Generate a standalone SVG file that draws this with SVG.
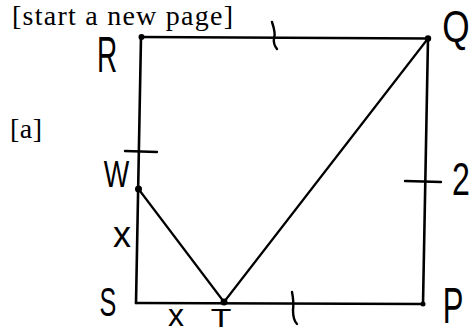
<svg xmlns="http://www.w3.org/2000/svg" width="470" height="334" viewBox="0 0 470 334">
<style>
.hdr{font-family:"Liberation Serif","Times New Roman",serif;font-size:28px;fill:#000}
.lbl{font-family:"Liberation Sans",Arial,sans-serif;fill:#000;text-anchor:middle}
.edge{stroke:#000;stroke-width:2.6;fill:none;stroke-linecap:round}
.diag{stroke:#000;stroke-width:2.2;fill:none;stroke-linecap:round}
.tick{stroke:#000;stroke-width:2.4;fill:none;stroke-linecap:round}
.dot{fill:#000}
</style>
<rect width="470" height="334" fill="#fff"/>
<text class="hdr" x="12" y="25" textLength="221" lengthAdjust="spacing">[start a new page]</text>
<text class="hdr" x="10" y="138" textLength="32" lengthAdjust="spacing">[a]</text>
<g id="connectors">
<line class="edge" x1="141" y1="37" x2="428" y2="38.5"/>
<line class="edge" x1="428" y1="38.5" x2="423" y2="304"/>
<line class="edge" x1="136" y1="303" x2="423" y2="304"/>
<line class="edge" x1="141" y1="37" x2="136" y2="303"/>
<line class="diag" x1="138.5" y1="189" x2="224" y2="302"/>
<line class="diag" x1="224" y1="302" x2="428" y2="38.5"/>
<g id="ticks">
<path class="tick" d="M272 22 Q276 34 274 38 Q273 44 277 49"/>
<line class="tick" x1="125" y1="151" x2="157" y2="152"/>
<line class="tick" x1="405" y1="181" x2="441" y2="182"/>
<path class="tick" d="M292 292 Q294 302 293 310 Q293 320 297 324"/>
</g>
</g>
<g id="R"><circle class="dot" cx="141.5" cy="37" r="3"/><text class="lbl" font-size="50" transform="translate(107 72) scale(0.56 1)">R</text></g>
<g id="Q"><circle class="dot" cx="428" cy="38.5" r="3.2"/><text class="lbl" font-size="44" transform="translate(456 42) scale(0.8 1)">Q</text></g>
<g id="W"><circle class="dot" cx="138.5" cy="189" r="3.5"/><text class="lbl" font-size="36" transform="translate(116.5 187) scale(0.75 1)">W</text><text class="lbl" font-size="36" x="122" y="247">x</text></g>
<g id="S"><text class="lbl" font-size="40" transform="translate(108 316) scale(0.63 1)">S</text></g>
<g id="T"><circle class="dot" cx="224" cy="302" r="3.5"/><text class="lbl" font-size="32" x="176" y="326">x</text><text class="lbl" font-size="26" transform="translate(221 327) scale(1.3 1)">T</text></g>
<g id="P"><circle class="dot" cx="423" cy="304" r="2.5"/><text class="lbl" font-size="50" transform="translate(453 323) scale(0.62 1)">P</text><text class="lbl" font-size="46" transform="translate(461 195) scale(0.7 1)">2</text></g>
</svg>
